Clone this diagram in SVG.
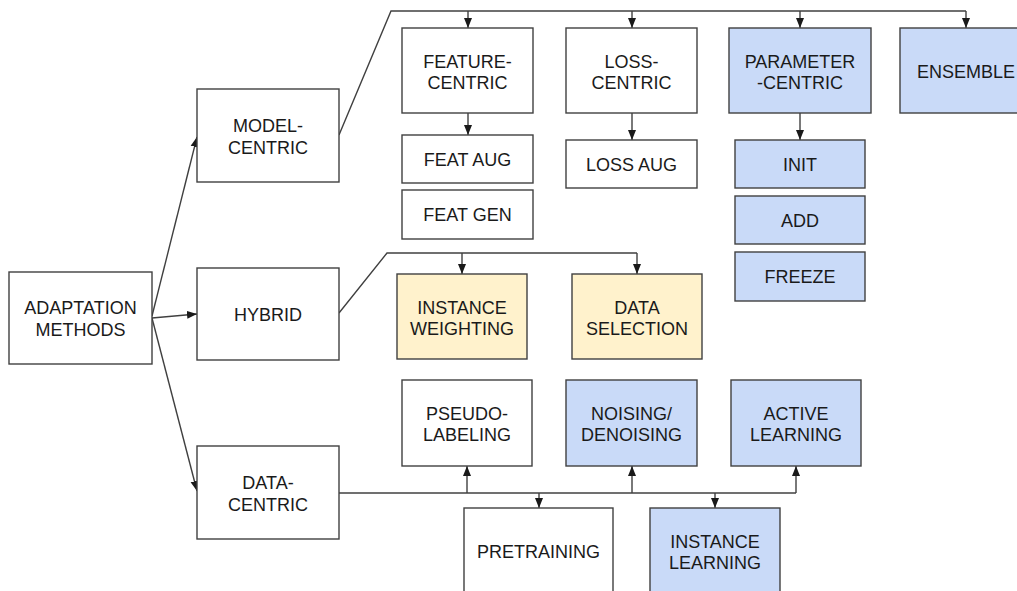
<svg xmlns="http://www.w3.org/2000/svg" width="1017" height="591" viewBox="0 0 1017 591">
<defs>
<marker id="ah" markerUnits="userSpaceOnUse" markerWidth="10" markerHeight="10" viewBox="0 0 10 10" refX="10" refY="5" orient="auto">
<path d="M0,1 L10,5 L0,9 Z" fill="#1a1a1a"/>
</marker>
<style>
.box{stroke:#404040;stroke-width:1.4;fill:#ffffff}
.blue{fill:#c9daf8}
.yel{fill:#fff2cc}
text{font-family:"Liberation Sans",Arial,sans-serif;font-size:18px;fill:#1a1a1a;text-anchor:middle}
.c{stroke:#404040;stroke-width:1.4;fill:none}
.a{stroke:#404040;stroke-width:1.4;fill:none;marker-end:url(#ah)}
</style>
</defs>
<rect width="1017" height="591" fill="#ffffff"/>
<g id="connectors">
<line class="a" x1="152" y1="316" x2="197" y2="137"/>
<line class="a" x1="152" y1="318" x2="197" y2="314"/>
<line class="a" x1="152" y1="318" x2="197" y2="491"/>
<polyline class="c" points="339,135 391,11 966,11"/>
<line class="a" x1="468" y1="11" x2="468" y2="28"/>
<line class="a" x1="632" y1="11" x2="632" y2="28"/>
<line class="a" x1="800" y1="11" x2="800" y2="28"/>
<line class="a" x1="966" y1="11" x2="966" y2="28"/>
<line class="a" x1="468" y1="113" x2="468" y2="135"/>
<line class="a" x1="632" y1="113" x2="632" y2="140"/>
<line class="a" x1="800" y1="113" x2="800" y2="140"/>
<polyline class="c" points="339,313 387,253 637,253"/>
<line class="a" x1="462" y1="253" x2="462" y2="274"/>
<line class="a" x1="637" y1="253" x2="637" y2="274"/>
<line class="c" x1="339" y1="493" x2="796" y2="493"/>
<line class="a" x1="467" y1="493" x2="467" y2="466"/>
<line class="a" x1="632" y1="493" x2="632" y2="466"/>
<line class="a" x1="796" y1="493" x2="796" y2="466"/>
<line class="a" x1="539" y1="493" x2="539" y2="508"/>
<line class="a" x1="715" y1="493" x2="715" y2="508"/>
</g>
<g id="adaptation"><rect class="box" x="9" y="272" width="143" height="92"/><text x="80.5" y="314">ADAPTATION</text><text x="80.5" y="336">METHODS</text></g>
<g id="model-centric"><rect class="box" x="197" y="89" width="142" height="93"/><text x="268" y="132">MODEL-</text><text x="268" y="154">CENTRIC</text></g>
<g id="hybrid"><rect class="box" x="197" y="268" width="142" height="92"/><text x="268" y="321">HYBRID</text></g>
<g id="data-centric"><rect class="box" x="197" y="446" width="142" height="93"/><text x="268" y="489">DATA-</text><text x="268" y="511">CENTRIC</text></g>
<g id="feature-centric"><rect class="box" x="402" y="28" width="131" height="85"/><text x="467.5" y="68">FEATURE-</text><text x="467.5" y="89">CENTRIC</text></g>
<g id="loss-centric"><rect class="box" x="566" y="28" width="131" height="85"/><text x="631.5" y="68">LOSS-</text><text x="631.5" y="89">CENTRIC</text></g>
<g id="parameter-centric"><rect class="box blue" x="729" y="28" width="142" height="85"/><text x="800" y="68">PARAMETER</text><text x="800" y="89">-CENTRIC</text></g>
<g id="ensemble"><rect class="box blue" x="900" y="28" width="132" height="85"/><text x="966" y="78">ENSEMBLE</text></g>
<g id="feat-aug"><rect class="box" x="402" y="135" width="131" height="48"/><text x="467.5" y="166">FEAT AUG</text></g>
<g id="feat-gen"><rect class="box" x="402" y="190" width="131" height="49"/><text x="467.5" y="221">FEAT GEN</text></g>
<g id="loss-aug"><rect class="box" x="566" y="140" width="131" height="48"/><text x="631.5" y="171">LOSS AUG</text></g>
<g id="init"><rect class="box blue" x="735" y="140" width="130" height="48"/><text x="800" y="171">INIT</text></g>
<g id="add"><rect class="box blue" x="735" y="196" width="130" height="48"/><text x="800" y="227">ADD</text></g>
<g id="freeze"><rect class="box blue" x="735" y="252" width="130" height="49"/><text x="800" y="283">FREEZE</text></g>
<g id="instance-weighting"><rect class="box yel" x="397" y="274" width="130" height="85"/><text x="462" y="314">INSTANCE</text><text x="462" y="335">WEIGHTING</text></g>
<g id="data-selection"><rect class="box yel" x="572" y="274" width="130" height="85"/><text x="637" y="314">DATA</text><text x="637" y="335">SELECTION</text></g>
<g id="pseudo-labeling"><rect class="box" x="402" y="380" width="130" height="86"/><text x="467" y="420">PSEUDO-</text><text x="467" y="441">LABELING</text></g>
<g id="noising"><rect class="box blue" x="566" y="380" width="131" height="86"/><text x="631.5" y="420">NOISING/</text><text x="631.5" y="441">DENOISING</text></g>
<g id="active-learning"><rect class="box blue" x="731" y="380" width="130" height="86"/><text x="796" y="420">ACTIVE</text><text x="796" y="441">LEARNING</text></g>
<g id="pretraining"><rect class="box" x="464" y="508" width="149" height="88"/><text x="538.5" y="558">PRETRAINING</text></g>
<g id="instance-learning"><rect class="box blue" x="650" y="508" width="130" height="88"/><text x="715" y="548">INSTANCE</text><text x="715" y="569">LEARNING</text></g>
</svg>
